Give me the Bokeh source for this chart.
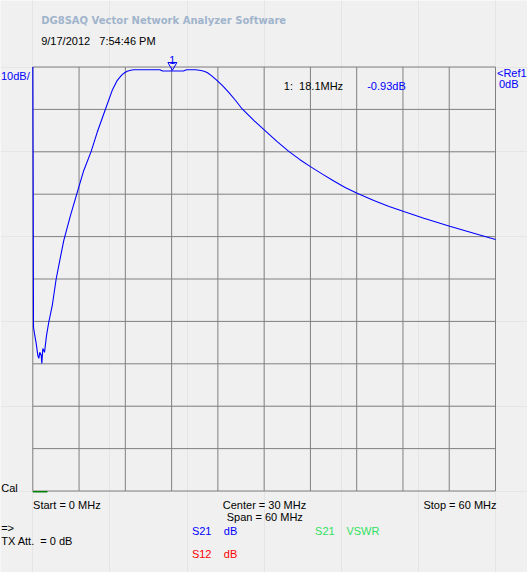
from bokeh.plotting import figure
from bokeh.models import Label, Range1d
from bokeh.embed import file_html
from bokeh.resources import INLINE

# ---------------- data ----------------
freq_mhz = [0.0, 0.05, 0.09, 0.22, 0.44, 0.65, 0.78, 0.91, 1.09, 1.17, 1.30, 1.52, 1.78,
            2.07, 2.52, 3.03, 3.59, 4.02, 4.89, 5.84, 6.61, 7.57, 8.35, 9.43, 10.30, 10.94,
            11.30, 11.59, 11.90, 12.24, 12.70, 13.10, 16.47, 16.82, 18.10, 19.54, 19.93,
            21.10, 21.60, 22.10, 22.61, 23.20, 23.91, 24.60, 25.41, 26.30, 27.15, 28.66,
            30.04, 31.69, 33.19, 34.60, 36.00, 37.50, 39.03, 40.50, 42.06, 44.22, 46.20,
            48.11, 50.70, 54.07, 57.18, 60.0]
s21_db = [0.0, -27.4, -61.4, -62.9, -65.2, -68.0, -68.7, -67.3, -68.0, -69.9, -66.4, -67.3,
          -63.3, -60.2, -56.3, -50.0, -44.8, -40.9, -35.0, -29.1, -24.4, -19.9, -15.4, -9.9,
          -5.5, -3.2, -2.4, -1.8, -1.35, -1.0, -0.78, -0.66, -0.66, -0.93, -0.93, -0.93,
          -0.66, -0.66, -0.75, -0.95, -1.3, -2.1, -3.2, -4.4, -6.0, -7.9, -9.9, -12.6,
          -14.9, -17.6, -19.9, -21.8, -23.5, -25.2, -26.9, -28.4, -29.8, -31.5, -32.9,
          -34.1, -35.65, -37.55, -39.2, -40.7]
vswr_freq = [0.0, 1.9]
vswr_db_pos = [-100.2, -100.2]          # VSWR trace pinned off-scale at the bottom
x_ticks = [0, 6, 12, 18, 24, 30, 36, 42, 48, 54, 60]
y_ticks = [-100, -90, -80, -70, -60, -50, -40, -30, -20, -10, 0]
x_span = (0, 60)
y_span = (-100, 0)
marker_freq = 18.1
marker_text = "1:\u00a0\u00a018.1MHz"
marker_value = "-0.93dB"

# ---------------- layout (pixel geometry) ----------------
W, H = 527, 572
LEFT_PX, RIGHT_PX = 32.3, 495.0
TOP_PX, BOT_PX = 66.5, 490.5
PX_PER_MHZ = (RIGHT_PX - LEFT_PX) / 60.0
PX_PER_DB = (BOT_PX - TOP_PX) / 100.0
X0 = -LEFT_PX / PX_PER_MHZ
X1 = X0 + W / PX_PER_MHZ
Y_TOP = TOP_PX / PX_PER_DB
Y_BOT = Y_TOP - H / PX_PER_DB


def X(px):
    return X0 + px / PX_PER_MHZ


def Y(py):
    return Y_TOP - py / PX_PER_DB


BG = "#f0f0f0"
GRID = "#808080"
BLUE = "#0000ff"
RED = "#ff0000"
GREEN = "#30e060"
FONT = "Liberation Sans"
NB = "\u00a0"

p = figure(width=W, height=H, x_range=Range1d(X0, X1), y_range=Range1d(Y_BOT, Y_TOP),
           output_backend="svg", toolbar_location=None,
           x_axis_location=None, y_axis_location=None, min_border=0,
           background_fill_color=BG, border_fill_color=BG, outline_line_color=None,
           styles={"position": "absolute", "left": "0px", "top": "0px"})

# grid (drawn from the tick lists)
p.segment(x0=x_ticks, y0=[y_span[0]] * len(x_ticks), x1=x_ticks, y1=[y_span[1]] * len(x_ticks),
          line_color=GRID, line_width=1)
p.segment(x0=[x_span[0]] * len(y_ticks), y0=y_ticks, x1=[x_span[1]] * len(y_ticks), y1=y_ticks,
          line_color=GRID, line_width=1)

# traces
p.line(vswr_freq, vswr_db_pos, line_color="#008000", line_width=1.5)
p.line(freq_mhz, s21_db, line_color=BLUE, line_width=1.1)

# marker triangle
p.scatter([marker_freq], [Y(64.6)], marker="inverted_triangle", size=9,
          fill_color=None, line_color=BLUE, line_width=1)


def lab(text, px, py, color="black", size="11px", align="left", font=FONT, style="normal"):
    p.add_layout(Label(x=X(px), y=Y(py), text=text, text_color=color, text_font=font,
                       text_font_size=size, text_align=align, text_baseline="alphabetic",
                       text_font_style=style))


lab("DG8SAQ Vector Network Analyzer Software", 40.7, 20, color="#a0b4cc", size="10px",
    font="DejaVu Sans", style="bold")
lab("9/17/2012" + NB * 3 + "7:54:46 PM", 40.7, 40)
lab("1", 171.7, 59.5, color=BLUE, align="center")
lab("10dB/", 0.5, 75.5, color=BLUE)
lab("<Ref1", 496.5, 72, color=BLUE)
lab("0dB", 498.5, 83, color=BLUE)
lab(marker_text, 283.3, 85)
lab(marker_value, 366.7, 85, color=BLUE)
lab("Cal", 0.7, 487)
lab("Start = 0 MHz", 32.6, 504)
lab("Center = 30 MHz", 264.0, 504, align="center")
lab("Span = 60 MHz", 264.3, 516.5, align="center")
lab("Stop = 60 MHz", 496.0, 504, align="right")
lab("=>", 0.7, 527)
lab("TX Att." + NB * 2 + "= 0 dB", 0.7, 540)
lab("S21", 191.4, 530.5, color=BLUE)
lab("dB", 223.3, 530.5, color=BLUE)
lab("S12", 191.4, 553, color=RED)
lab("dB", 223.3, 553, color=RED)
lab("S21", 314.6, 530.5, color=GREEN)
lab("VSWR", 345.9, 530.5, color=GREEN)

open("out.html", "w").write(file_html(p, INLINE))
